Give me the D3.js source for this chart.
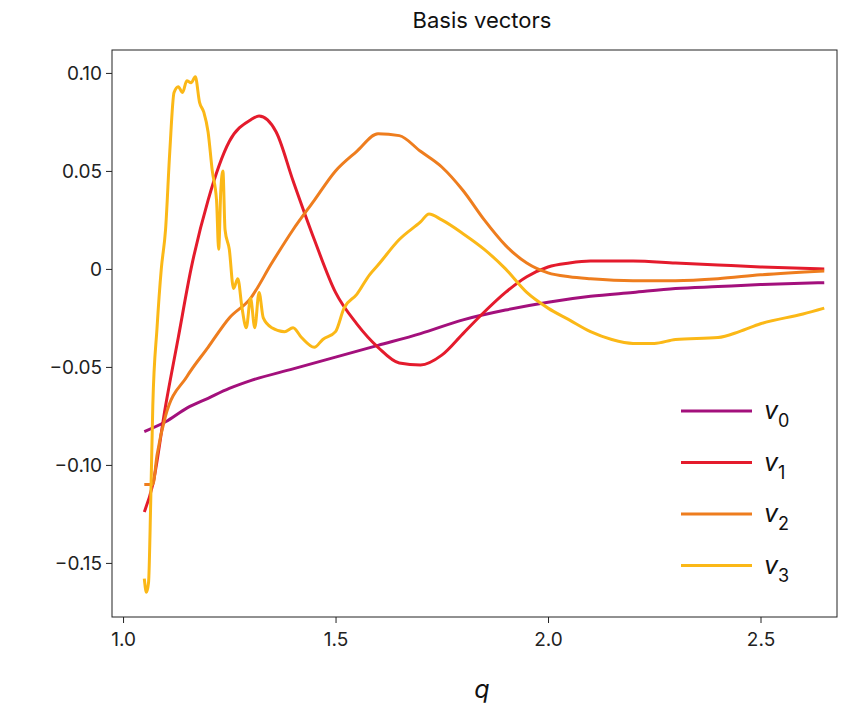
<!DOCTYPE html><html><head><meta charset="utf-8"><script src="https://cdn.jsdelivr.net/npm/d3@7"></script>
<style>body{margin:0;background:#fff}text{font-family:Inter,"Noto Sans",sans-serif}</style></head><body><svg id="c" width="862" height="715"></svg><script>
const xTicks=[1.0,1.5,2.0,2.5], xTickLabels=["1.0","1.5","2.0","2.5"];
const yTicks=[0.10,0.05,0,-0.05,-0.10,-0.15], yTickLabels=["0.10","0.05","0","−0.05","−0.10","−0.15"];
const seriesNames=["0","1","2","3"];
const colors=["#a3107c","#e41b2c","#ee7d1e","#fbb817"];
const v0=[[1.05,-0.083],[1.1,-0.078],[1.15,-0.071],[1.2,-0.066],[1.25,-0.061],[1.3,-0.057],[1.4,-0.051],[1.5,-0.045],[1.6,-0.039],[1.7,-0.033],[1.8,-0.026],[1.9,-0.021],[2.0,-0.017],[2.1,-0.014],[2.2,-0.012],[2.3,-0.010],[2.4,-0.009],[2.5,-0.008],[2.65,-0.007]];
const v1=[[1.05,-0.124],[1.07,-0.11],[1.1,-0.07],[1.13,-0.035],[1.16,0.0],[1.2,0.035],[1.25,0.065],[1.3,0.076],[1.32,0.078],[1.36,0.07],[1.4,0.045],[1.45,0.015],[1.5,-0.012],[1.55,-0.028],[1.6,-0.040],[1.65,-0.048],[1.7,-0.049],[1.75,-0.044],[1.8,-0.033],[1.85,-0.022],[1.9,-0.012],[1.95,-0.004],[2.0,0.001],[2.05,0.003],[2.1,0.004],[2.2,0.004],[2.3,0.003],[2.4,0.002],[2.5,0.001],[2.65,0.0]];
const v2=[[1.05,-0.110],[1.07,-0.110],[1.08,-0.095],[1.1,-0.075],[1.15,-0.055],[1.2,-0.040],[1.25,-0.025],[1.3,-0.015],[1.35,0.003],[1.4,0.02],[1.45,0.035],[1.5,0.05],[1.55,0.06],[1.6,0.069],[1.65,0.068],[1.7,0.06],[1.75,0.052],[1.8,0.04],[1.85,0.025],[1.9,0.012],[1.95,0.003],[2.0,-0.002],[2.05,-0.004],[2.1,-0.005],[2.2,-0.006],[2.3,-0.006],[2.4,-0.005],[2.5,-0.003],[2.65,-0.001]];
const v3=[[1.05,-0.158],[1.055,-0.165],[1.06,-0.16],[1.065,-0.12],[1.07,-0.07],[1.08,-0.03],[1.09,0.0],[1.1,0.02],[1.11,0.06],[1.12,0.09],[1.13,0.093],[1.14,0.09],[1.15,0.096],[1.16,0.095],[1.17,0.098],[1.18,0.085],[1.19,0.08],[1.2,0.07],[1.21,0.05],[1.22,0.035],[1.225,0.01],[1.23,0.04],[1.235,0.05],[1.24,0.02],[1.25,0.01],[1.26,-0.01],[1.27,-0.005],[1.28,-0.02],[1.29,-0.03],[1.3,-0.015],[1.31,-0.03],[1.32,-0.012],[1.33,-0.025],[1.35,-0.03],[1.38,-0.032],[1.4,-0.03],[1.42,-0.035],[1.45,-0.040],[1.47,-0.036],[1.5,-0.032],[1.52,-0.02],[1.55,-0.013],[1.58,-0.003],[1.6,0.002],[1.65,0.015],[1.7,0.024],[1.72,0.028],[1.75,0.025],[1.8,0.018],[1.85,0.01],[1.9,0.0],[1.95,-0.012],[2.0,-0.02],[2.05,-0.026],[2.1,-0.032],[2.15,-0.036],[2.2,-0.038],[2.25,-0.038],[2.3,-0.036],[2.4,-0.035],[2.45,-0.032],[2.5,-0.028],[2.6,-0.023],[2.65,-0.020]];
const series=[v0,v1,v2,v3];
const svg=d3.select("#c");
const L=112,R=837,T=50,B=617;
const x=d3.scaleLinear().domain([0.974,2.68]).range([L,R]);
const y=d3.scaleLinear().domain([-0.1776,0.1117]).range([B,T]);
svg.append("rect").attr("x",L).attr("y",T).attr("width",R-L).attr("height",B-T).attr("fill","none").attr("stroke","#222").attr("stroke-width",1);
const xa=svg.append("g").attr("transform",`translate(0,${B})`).call(d3.axisBottom(x).tickValues(xTicks).tickFormat((d,i)=>xTickLabels[i]).tickSize(6).tickSizeOuter(0));
const ya=svg.append("g").attr("transform",`translate(${L},0)`).call(d3.axisLeft(y).tickValues(yTicks).tickFormat((d,i)=>yTickLabels[i]).tickSize(6).tickSizeOuter(0));
[xa,ya].forEach(a=>{a.select(".domain").remove();a.selectAll("text").attr("font-size",19).attr("fill","#222").attr("font-family","Inter,sans-serif");a.selectAll("line").attr("stroke","#222");});
xa.selectAll("text").attr("dy","1.05em");
ya.selectAll("text").attr("x",-10);
const line=d3.line().x(d=>x(d[0])).y(d=>y(d[1])).curve(d3.curveMonotoneX);
series.forEach((s,i)=>svg.append("path").datum(s).attr("d",line).attr("fill","none").attr("stroke",colors[i]).attr("stroke-width",3).attr("stroke-linejoin","round"));
svg.append("text").attr("x",482).attr("y",28).attr("text-anchor","middle").attr("font-size",22).attr("fill","#111").text("Basis vectors");
svg.append("text").attr("x",482).attr("y",698).attr("text-anchor","middle").attr("font-size",25).attr("font-style","italic").attr("fill","#111").text("q");
seriesNames.forEach((n,i)=>{const yy=411+i*51.5;
svg.append("line").attr("x1",681).attr("x2",752).attr("y1",yy).attr("y2",yy).attr("stroke",colors[i]).attr("stroke-width",3);
const t=svg.append("text").attr("x",764).attr("y",yy+8).attr("font-size",25).attr("fill","#111");
t.append("tspan").attr("font-style","italic").text("v");
t.append("tspan").attr("font-size",18).attr("dy",8).text(n);});
</script></body></html>
